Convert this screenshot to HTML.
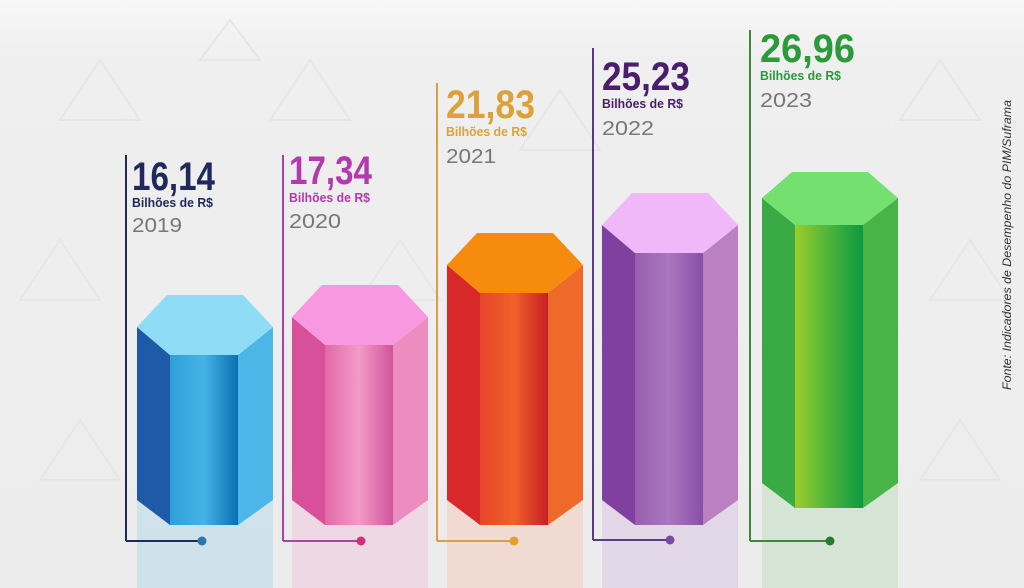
<!DOCTYPE html>
<html><head><meta charset="utf-8"><style>
html,body{margin:0;padding:0;background:#eeeeee;}
svg{display:block;}
.v{font-family:"Liberation Sans",sans-serif;font-weight:bold;font-size:40px;}
.b{font-family:"Liberation Sans",sans-serif;font-weight:bold;font-size:12.5px;}
.y{font-family:"Liberation Sans",sans-serif;font-size:20px;fill:#777;}
</style></head><body>
<svg width="1024" height="588" viewBox="0 0 1024 588" xmlns="http://www.w3.org/2000/svg">
<defs>
<linearGradient id="bg" x1="0" y1="0" x2="0" y2="1"><stop offset="0" stop-color="#f7f7f7"/><stop offset="0.1" stop-color="#efefef"/><stop offset="1" stop-color="#ececec"/></linearGradient>
<linearGradient id="f1" x1="0" x2="1"><stop offset="0" stop-color="#2f9fd8"/><stop offset="0.5" stop-color="#45b3e6"/><stop offset="1" stop-color="#0a6fb0"/></linearGradient>
<linearGradient id="f2" x1="0" x2="1"><stop offset="0" stop-color="#e06aa8"/><stop offset="0.5" stop-color="#f39ac8"/><stop offset="1" stop-color="#d0559a"/></linearGradient>
<linearGradient id="f3" x1="0" x2="1"><stop offset="0" stop-color="#e8452a"/><stop offset="0.5" stop-color="#f0602a"/><stop offset="1" stop-color="#c81f25"/></linearGradient>
<linearGradient id="f4" x1="0" x2="1"><stop offset="0" stop-color="#9a5fb0"/><stop offset="0.5" stop-color="#a977bd"/><stop offset="1" stop-color="#8a4fa8"/></linearGradient>
<linearGradient id="f5" x1="0" x2="1"><stop offset="0" stop-color="#9ccc2a"/><stop offset="0.5" stop-color="#4cb43a"/><stop offset="1" stop-color="#0b9a42"/></linearGradient>
</defs>
<rect width="1024" height="588" fill="url(#bg)"/>
<g stroke="#e3e3e3" stroke-width="2" fill="none" opacity="0.8">
<path d="M60 120 L100 60 L140 120 Z M270 120 L310 60 L350 120 Z M900 120 L940 60 L980 120 Z M20 300 L60 240 L100 300 Z M930 300 L970 240 L1010 300 Z M40 480 L80 420 L120 480 Z M920 480 L960 420 L1000 480 Z M200 60 L230 20 L260 60 Z M360 300 L400 240 L440 300 Z M520 150 L560 90 L600 150 Z"/>
</g>
<g>
<rect x="137" y="500" width="136" height="88" fill="#b8d8ea" opacity="0.55"/>
<polygon points="137,327 170,355 170,525 137,500" fill="#1f5aa8"/>
<polygon points="238,355 273,327 273,500 238,525" fill="#4db6e8"/>
<polygon points="170,355 238,355 238,525 170,525" fill="url(#f1)"/>
<polygon points="137,327 167,295 243,295 273,327 238,355 170,355" fill="#8fdcf7"/>
<line x1="126" y1="155" x2="126" y2="541" stroke="#1f2a5a" stroke-width="2"/>
<line x1="126" y1="541" x2="202" y2="541" stroke="#1f2a5a" stroke-width="2"/>
<circle cx="202" cy="541" r="4.5" fill="#2a77b0"/>
<text class="v" x="132" y="190" fill="#1f2a5a" textLength="83" lengthAdjust="spacingAndGlyphs">16,14</text>
<text class="b" x="132" y="207" fill="#1f2a5a" textLength="81" lengthAdjust="spacingAndGlyphs">Bilhões de R$</text>
<text class="y" x="132" y="232" textLength="50" lengthAdjust="spacingAndGlyphs">2019</text>
</g>
<g>
<rect x="292" y="500" width="136" height="88" fill="#f0c8dc" opacity="0.55"/>
<polygon points="292,317 325,345 325,525 292,500" fill="#d8509a"/>
<polygon points="393,345 428,317 428,500 393,525" fill="#ec8cbf"/>
<polygon points="325,345 393,345 393,525 325,525" fill="url(#f2)"/>
<polygon points="292,317 322,285 398,285 428,317 393,345 325,345" fill="#f898e0"/>
<line x1="283" y1="155" x2="283" y2="541" stroke="#b040a8" stroke-width="2"/>
<line x1="283" y1="541" x2="361" y2="541" stroke="#b040a8" stroke-width="2"/>
<circle cx="361" cy="541" r="4.5" fill="#d0307a"/>
<text class="v" x="289" y="184" fill="#b23aac" textLength="83" lengthAdjust="spacingAndGlyphs">17,34</text>
<text class="b" x="289" y="202" fill="#b23aac" textLength="81" lengthAdjust="spacingAndGlyphs">Bilhões de R$</text>
<text class="y" x="289" y="228" textLength="52" lengthAdjust="spacingAndGlyphs">2020</text>
</g>
<g>
<rect x="447" y="500" width="136" height="88" fill="#f3c8b8" opacity="0.5"/>
<polygon points="447,265 480,293 480,525 447,500" fill="#d8282a"/>
<polygon points="548,293 583,265 583,500 548,525" fill="#ee6a2a"/>
<polygon points="480,293 548,293 548,525 480,525" fill="url(#f3)"/>
<polygon points="447,265 477,233 553,233 583,265 548,293 480,293" fill="#f78b0d"/>
<line x1="437" y1="83" x2="437" y2="541" stroke="#d9a040" stroke-width="2"/>
<line x1="437" y1="541" x2="514" y2="541" stroke="#d9a040" stroke-width="2"/>
<circle cx="514" cy="541" r="4.5" fill="#e0a030"/>
<text class="v" x="446" y="118" fill="#dca23a" textLength="89" lengthAdjust="spacingAndGlyphs">21,83</text>
<text class="b" x="446" y="136" fill="#dca23a" textLength="81" lengthAdjust="spacingAndGlyphs">Bilhões de R$</text>
<text class="y" x="446" y="163" textLength="50" lengthAdjust="spacingAndGlyphs">2021</text>
</g>
<g>
<rect x="602" y="500" width="136" height="88" fill="#dcc8e6" opacity="0.55"/>
<polygon points="602,225 635,253 635,525 602,500" fill="#8040a0"/>
<polygon points="703,253 738,225 738,500 703,525" fill="#bb80c0"/>
<polygon points="635,253 703,253 703,525 635,525" fill="url(#f4)"/>
<polygon points="602,225 632,193 708,193 738,225 703,253 635,253" fill="#f0b8f8"/>
<line x1="593" y1="48" x2="593" y2="540" stroke="#5a3a80" stroke-width="2"/>
<line x1="593" y1="540" x2="670" y2="540" stroke="#5a3a80" stroke-width="2"/>
<circle cx="670" cy="540" r="4.5" fill="#7a4aa0"/>
<text class="v" x="602" y="90" fill="#4a1e6a" textLength="88" lengthAdjust="spacingAndGlyphs">25,23</text>
<text class="b" x="602" y="108" fill="#4a1e6a" textLength="81" lengthAdjust="spacingAndGlyphs">Bilhões de R$</text>
<text class="y" x="602" y="135" textLength="52" lengthAdjust="spacingAndGlyphs">2022</text>
</g>
<g>
<rect x="762" y="483" width="136" height="105" fill="#c8e0c8" opacity="0.6"/>
<polygon points="762,198 795,225 795,508 762,483" fill="#3aaa44"/>
<polygon points="863,225 898,198 898,483 863,508" fill="#48b448"/>
<polygon points="795,225 863,225 863,508 795,508" fill="url(#f5)"/>
<polygon points="762,198 792,172 868,172 898,198 863,225 795,225" fill="#74e070"/>
<line x1="750" y1="30" x2="750" y2="541" stroke="#3a8a3a" stroke-width="2"/>
<line x1="750" y1="541" x2="830" y2="541" stroke="#3a8a3a" stroke-width="2"/>
<circle cx="830" cy="541" r="4.5" fill="#2a7a30"/>
<text class="v" x="760" y="62" fill="#2a9a3a" textLength="95" lengthAdjust="spacingAndGlyphs">26,96</text>
<text class="b" x="760" y="80" fill="#2a9a3a" textLength="81" lengthAdjust="spacingAndGlyphs">Bilhões de R$</text>
<text class="y" x="760" y="107" textLength="52" lengthAdjust="spacingAndGlyphs">2023</text>
</g>
<text x="1011" y="245" transform="rotate(-90 1011 245)" text-anchor="middle" font-family="Liberation Sans, sans-serif" font-style="italic" font-size="11.5" fill="#333" textLength="290" lengthAdjust="spacingAndGlyphs">Fonte: Indicadores de Desempenho do PIM/Suframa</text>
</svg>
</body></html>
